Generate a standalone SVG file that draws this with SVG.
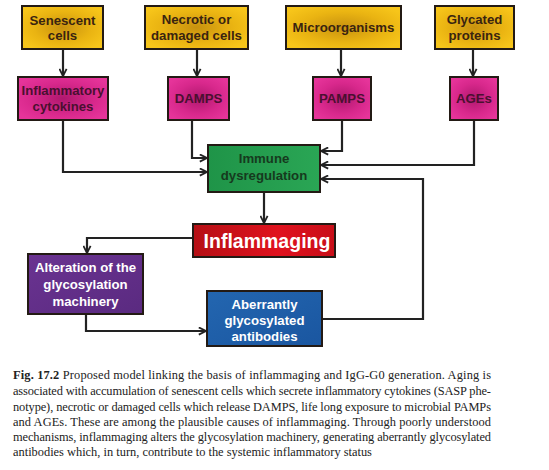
<svg xmlns="http://www.w3.org/2000/svg" width="549" height="470" viewBox="0 0 549 470">
<style>
.box{stroke:#231a14;stroke-width:2}
.lbl{font-family:"Liberation Sans",Arial,sans-serif;font-weight:bold;font-size:13.2px;text-anchor:middle}
.dk{fill:#3a2410}
.pk{fill:#4a1030}
.gn{fill:#163a1e}
.wh{fill:#ffffff}
.con{fill:none;stroke:#222;stroke-width:2.2}
.cap{font-family:"Liberation Serif","Times New Roman",serif;font-size:12.4px;fill:#222}
</style>
<defs>
<radialGradient id="gy" cx="50%" cy="50%" r="60%"><stop offset="0" stop-color="#c8920f"/><stop offset="0.6" stop-color="#eab412"/><stop offset="1" stop-color="#f7c51a"/></radialGradient>
<radialGradient id="gp" cx="50%" cy="50%" r="60%"><stop offset="0" stop-color="#b0186e"/><stop offset="0.6" stop-color="#d8288c"/><stop offset="1" stop-color="#e6349a"/></radialGradient>
<linearGradient id="gg" x1="0" y1="0" x2="1" y2="0"><stop offset="0" stop-color="#1f9448"/><stop offset="1" stop-color="#2aa655"/></linearGradient>
<linearGradient id="gr" x1="0" y1="0" x2="1" y2="0"><stop offset="0" stop-color="#b50f14"/><stop offset="0.6" stop-color="#e0121e"/><stop offset="1" stop-color="#c80e18"/></linearGradient>
<linearGradient id="gu" x1="0" y1="0" x2="1" y2="1"><stop offset="0" stop-color="#6a3391"/><stop offset="1" stop-color="#5a2a80"/></linearGradient>
<linearGradient id="gb" x1="0" y1="0" x2="1" y2="1"><stop offset="0" stop-color="#2366b0"/><stop offset="1" stop-color="#1a56a0"/></linearGradient>
<marker id="ah" viewBox="0 0 10 10" refX="9" refY="5" markerWidth="9" markerHeight="9" markerUnits="userSpaceOnUse" orient="auto">
<path d="M1,1 L9,5 L1,9" fill="none" stroke="#222" stroke-width="2"/>
</marker>
</defs>

<g id="connectors">
<line class="con" x1="63" y1="50" x2="63" y2="76" marker-end="url(#ah)"/>
<line class="con" x1="197" y1="50" x2="197" y2="76" marker-end="url(#ah)"/>
<line class="con" x1="341" y1="50" x2="341" y2="76" marker-end="url(#ah)"/>
<line class="con" x1="473" y1="50" x2="473" y2="76" marker-end="url(#ah)"/>
<polyline class="con" points="63,121 63,172 207,172" marker-end="url(#ah)"/>
<polyline class="con" points="192,121 192,158 207,158" marker-end="url(#ah)"/>
<polyline class="con" points="342,121 342,151 321,151" marker-end="url(#ah)"/>
<polyline class="con" points="474,121 474,165 321,165" marker-end="url(#ah)"/>
<polyline class="con" points="323,319 423,319 423,179 321,179" marker-end="url(#ah)"/>
<line class="con" x1="264" y1="193" x2="264" y2="223" marker-end="url(#ah)"/>
<polyline class="con" points="193,238 87,238 87,253" marker-end="url(#ah)"/>
<polyline class="con" points="86,315 86,331 206,331" marker-end="url(#ah)"/>
</g>

<g id="senescent"><rect class="box" x="22" y="6" width="81" height="43" fill="url(#gy)"/><text class="lbl dk" x="62.5" y="24.5">Senescent</text><text class="lbl dk" x="62.5" y="40">cells</text></g>
<g id="necrotic"><rect class="box" x="145" y="6" width="103" height="43" fill="url(#gy)"/><text class="lbl dk" x="196.5" y="24">Necrotic or</text><text class="lbl dk" x="196.5" y="40">damaged cells</text></g>
<g id="micro"><rect class="box" x="286" y="6" width="115" height="43" fill="url(#gy)"/><text class="lbl dk" x="343.5" y="32">Microorganisms</text></g>
<g id="glycated"><rect class="box" x="435" y="6" width="79" height="43" fill="url(#gy)"/><text class="lbl dk" x="474.5" y="24">Glycated</text><text class="lbl dk" x="474.5" y="40">proteins</text></g>

<g id="cytokines"><rect class="box" x="18" y="77" width="90" height="43" fill="url(#gp)"/><text class="lbl pk" x="63" y="95">Inflammatory</text><text class="lbl pk" x="63" y="111">cytokines</text></g>
<g id="damps"><rect class="box" x="168" y="77" width="61" height="43" fill="url(#gp)"/><text class="lbl pk" x="198.5" y="103">DAMPS</text></g>
<g id="pamps"><rect class="box" x="313" y="77" width="58" height="43" fill="url(#gp)"/><text class="lbl pk" x="342" y="103">PAMPS</text></g>
<g id="ages"><rect class="box" x="450" y="77" width="48" height="43" fill="url(#gp)"/><text class="lbl pk" x="474" y="103">AGEs</text></g>

<g id="immune"><rect class="box" x="208" y="145" width="112" height="47" fill="url(#gg)"/><text class="lbl gn" x="264" y="163">Immune</text><text class="lbl gn" x="264" y="180">dysregulation</text></g>

<g id="inflammaging"><rect class="box" x="193" y="224" width="142" height="33" fill="url(#gr)"/><text x="267" y="247.5" fill="#fff" font-family="Liberation Sans,Arial,sans-serif" font-weight="bold" font-size="19.5px" text-anchor="middle">Inflammaging</text></g>

<g id="alteration"><rect class="box" x="28" y="254" width="115" height="60" fill="url(#gu)"/><text class="lbl wh" x="85.5" y="272">Alteration of the</text><text class="lbl wh" x="85.5" y="289">glycosylation</text><text class="lbl wh" x="85.5" y="306">machinery</text></g>

<g id="aberrant"><rect class="box" x="207" y="291" width="115" height="55" fill="url(#gb)"/><text class="lbl wh" x="264.5" y="309">Aberrantly</text><text class="lbl wh" x="264.5" y="325">glycosylated</text><text class="lbl wh" x="264.5" y="341">antibodies</text></g>

<g id="caption">
<text class="cap" x="13" y="379" textLength="478" lengthAdjust="spacing"><tspan font-weight="bold">Fig. 17.2</tspan>  Proposed model linking the basis of inflammaging and IgG-G0 generation. Aging is</text>
<text class="cap" x="13" y="395" textLength="478" lengthAdjust="spacing">associated with accumulation of senescent cells which secrete inflammatory cytokines (SASP phe-</text>
<text class="cap" x="13" y="411" textLength="478" lengthAdjust="spacing">notype), necrotic or damaged cells which release DAMPS, life long exposure to microbial PAMPs</text>
<text class="cap" x="13" y="426" textLength="478" lengthAdjust="spacing">and AGEs. These are among the plausible causes of inflammaging. Through poorly understood</text>
<text class="cap" x="13" y="441" textLength="478" lengthAdjust="spacing">mechanisms, inflammaging alters the glycosylation machinery, generating aberrantly glycosylated</text>
<text class="cap" x="13" y="456">antibodies which, in turn, contribute to the systemic inflammatory status</text>
</g>
</svg>
